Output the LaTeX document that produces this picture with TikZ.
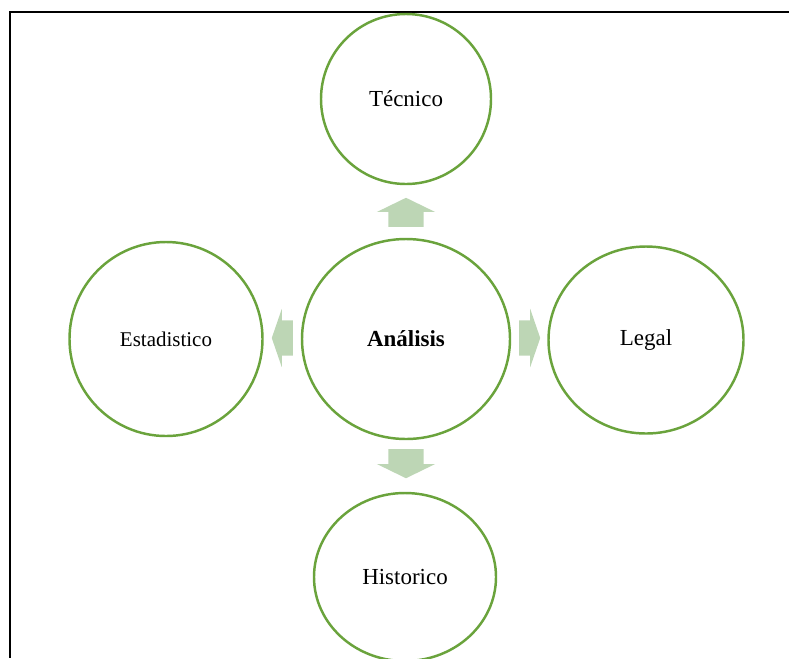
\documentclass[tikz,border=0pt]{standalone}
\usepackage{fontspec}
\setmainfont{Liberation Serif}
\usetikzlibrary{shapes.geometric,shapes.arrows}
\definecolor{ringgreen}{RGB}{106,163,60}
\definecolor{arrowgreen}{RGB}{189,214,181}
\tikzset{topic/.style = {draw=ringgreen, ellipse, line width=2.1pt, fill=white, inner sep=0pt, font=\fontsize{19.6}{23}\selectfont}}
\tikzset{hub/.style = {topic, font=\fontsize{19.6}{23}\selectfont\bfseries}}
\tikzset{blockarrow/.style = {single arrow, fill=arrowgreen, draw=none, anchor=tail, inner xsep=0pt, inner ysep=0.52cm, minimum width=1.74cm, single arrow head extend=0.345cm}}

\begin{document}
\begin{tikzpicture}[x=0.03cm, y=-0.03cm]
  \useasboundingbox (0,0) rectangle (789,658);
  \draw[line width=1.4pt] (789,12) -- (10,12) -- (10,658);

  \node [hub, minimum width=6.24cm, minimum height=6cm] (analisis) at (406,339) {Análisis};
  \node [topic, minimum width=5.1cm, minimum height=5.1cm] (tecnico) at (406,99) {Técnico};
  \node [topic, minimum width=5.79cm, minimum height=5.82cm, font=\fontsize{17.9}{21}\selectfont] (estadistico) at (166,339) {Estadistico};
  \node [topic, minimum width=5.85cm, minimum height=5.61cm] (legal) at (646,340) {Legal};
  \node [topic, minimum width=5.46cm, minimum height=5.04cm] (historico) at (405,577) {Historico};

  \node [blockarrow, minimum height=0.87cm, single arrow tip angle=128, rotate=90] (up) at (406,227) {};
  \node [blockarrow, minimum height=0.87cm, single arrow tip angle=128, rotate=-90] (down) at (406,449) {};
  \node [blockarrow, minimum height=0.63cm, single arrow tip angle=142, rotate=180] (left) at (293,338) {};
  \node [blockarrow, minimum height=0.63cm, single arrow tip angle=142] (right) at (519,338) {};
\end{tikzpicture}
\end{document}
